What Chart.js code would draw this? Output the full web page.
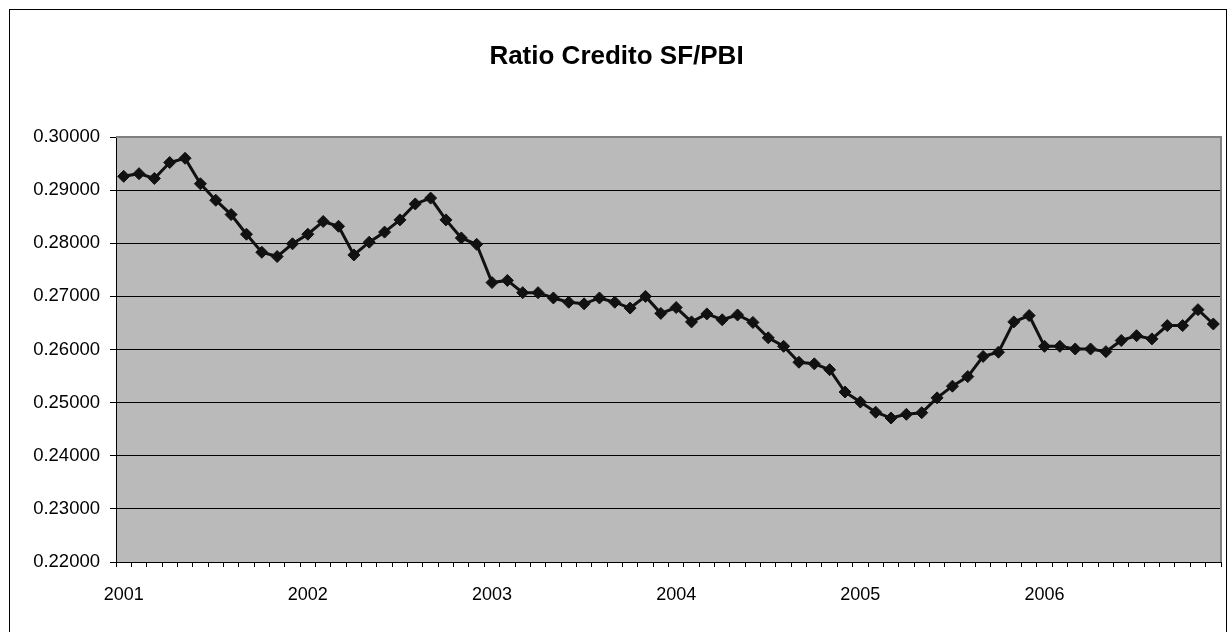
<!DOCTYPE html>
<html>
<head>
<meta charset="utf-8">
<title>Ratio Credito SF/PBI</title>
<script src="https://cdn.jsdelivr.net/npm/chart.js@4/dist/chart.umd.min.js"></script>
<style>
  html, body { margin: 0; padding: 0; background: #ffffff; }
  #wrap { width: 1228px; height: 632px; }
</style>
</head>
<body>
<div id="wrap"><canvas id="c" width="1228" height="632"></canvas></div>
<script>
// Monthly series, January 2001 – December 2006
const years = ['2001', '2002', '2003', '2004', '2005', '2006'];
const monthsPerYear = 12;

const ratio2001 = [0.2926, 0.2931, 0.2922, 0.2952, 0.2960, 0.2912, 0.2881, 0.2854, 0.2817, 0.2783, 0.2775, 0.2799];
const ratio2002 = [0.2817, 0.2841, 0.2832, 0.2778, 0.2802, 0.2821, 0.2844, 0.2874, 0.2885, 0.2844, 0.2810, 0.2798];
const ratio2003 = [0.2726, 0.2730, 0.2707, 0.2707, 0.2697, 0.2689, 0.2686, 0.2697, 0.2689, 0.2678, 0.2700, 0.2668];
const ratio2004 = [0.2679, 0.2652, 0.2667, 0.2656, 0.2665, 0.2651, 0.2622, 0.2606, 0.2576, 0.2573, 0.2562, 0.2520];
const ratio2005 = [0.2501, 0.2482, 0.2471, 0.2478, 0.2481, 0.2509, 0.2531, 0.2549, 0.2587, 0.2595, 0.2652, 0.2664];
const ratio2006 = [0.2606, 0.2606, 0.2601, 0.2601, 0.2596, 0.2617, 0.2626, 0.2620, 0.2645, 0.2645, 0.2675, 0.2648];

const yTickMin = 0.22;
const yTickMax = 0.30;
const yTickStep = 0.01;

const values = [].concat(ratio2001, ratio2002, ratio2003, ratio2004, ratio2005, ratio2006);
const labels = [];
years.forEach(y => { for (let m = 1; m <= monthsPerYear; m++) labels.push(y + '-' + String(m).padStart(2, '0')); });

const FONT = '"Liberation Sans", Arial, Helvetica, sans-serif';

// Grey plot background, plot frame and the outer chart border
const frame = {
  id: 'frame',
  beforeDraw(chart) {
    const { ctx, chartArea: a } = chart;
    ctx.save();
    ctx.fillStyle = '#bababa';
    ctx.fillRect(a.left, a.top, a.right - a.left, a.bottom - a.top);
    ctx.strokeStyle = '#000000';
    ctx.lineWidth = 1;
    ctx.strokeRect(9.5, 9.5, 1217, 640);
    ctx.restore();
  },
  beforeDatasetsDraw(chart) {
    const { ctx, chartArea: a } = chart;
    ctx.save();
    ctx.strokeStyle = '#808080';
    ctx.lineWidth = 2;
    ctx.beginPath();
    ctx.moveTo(a.left, a.top);
    ctx.lineTo(a.right, a.top);
    ctx.lineTo(a.right, a.bottom);
    ctx.stroke();
    ctx.restore();
  }
};

new Chart(document.getElementById('c'), {
  type: 'line',
  data: {
    labels: labels,
    datasets: [{
      data: values,
      borderColor: '#111111',
      borderWidth: 3,
      backgroundColor: '#000000',
      pointStyle: 'rectRot',
      pointRadius: 6,
      pointBackgroundColor: '#111111',
      pointBorderColor: '#111111',
      pointBorderWidth: 1,
      tension: 0,
      fill: false
    }]
  },
  options: {
    responsive: false,
    devicePixelRatio: 1,
    animation: false,
    layout: { padding: { left: 10, right: 5, top: 10, bottom: 0 } },
    plugins: {
      legend: { display: false },
      tooltip: { enabled: false },
      title: {
        display: true,
        text: 'Ratio Credito SF/PBI',
        color: '#000000',
        font: { family: FONT, size: 26, weight: 'bold' },
        padding: { top: 31.4, bottom: 64.4 }
      }
    },
    scales: {
      x: {
        type: 'category',
        offset: true,
        afterFit(scale) {
          scale.height = 70;
          scale.paddingLeft = 0;
          scale.paddingRight = 0;
        },
        grid: {
          offset: true,
          drawOnChartArea: false,
          drawTicks: true,
          tickLength: 5,
          color: '#000000',
          lineWidth: 1
        },
        border: { display: true, color: '#000000', width: 1 },
        ticks: {
          autoSkip: false,
          maxRotation: 0,
          minRotation: 0,
          padding: 17,
          color: '#000000',
          font: { family: FONT, size: 18 },
          callback: (v, i) => (i % monthsPerYear === 0 ? years[i / monthsPerYear] : '')
        }
      },
      y: {
        min: yTickMin,
        max: yTickMax,
        afterFit(scale) { scale.width = 106; },
        grid: {
          drawOnChartArea: true,
          drawTicks: true,
          tickLength: 6,
          color: '#000000',
          lineWidth: 1
        },
        border: { display: true, color: '#000000', width: 1 },
        ticks: {
          stepSize: yTickStep,
          padding: 10,
          color: '#000000',
          font: { family: FONT, size: 18.5 },
          callback: v => Number(v).toFixed(5)
        }
      }
    }
  },
  plugins: [frame]
});
</script>
</body>
</html>
